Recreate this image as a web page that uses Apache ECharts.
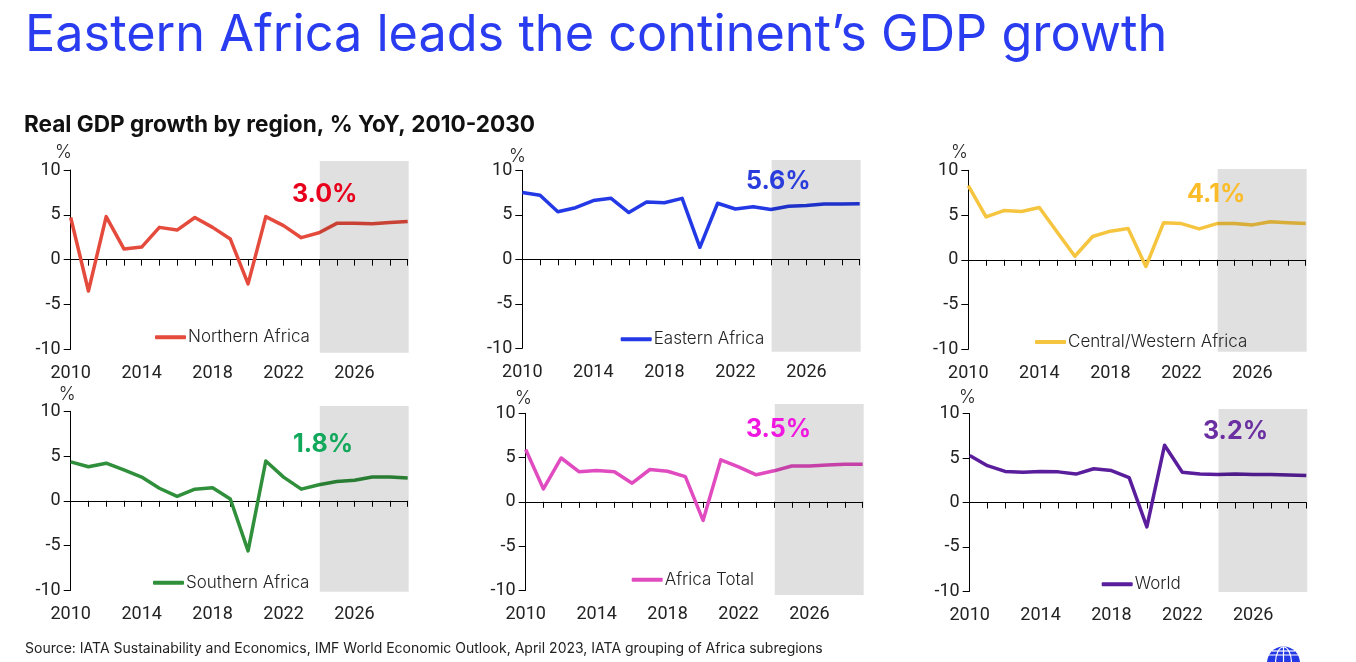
<!DOCTYPE html>
<html lang="en">
	<head>
		<meta charset="UTF-8" />
		<title>Eastern Africa GDP growth</title>
		<style>
			* {
				box-sizing: border-box;
				margin: 0;
				padding: 0;
			}

			#chart {
				width: 1356px;
				height: 662px;
				background-color: #fff;
			}
		</style>
	</head>
	<body>
		<div id="chart"></div>
		<script src="https://cdn.jsdelivr.net/npm/echarts@6/dist/echarts.min.js"></script>
		<script>
			var years = ['2010', '2011', '2012', '2013', '2014', '2015', '2016', '2017', '2018', '2019', '2020', '2021', '2022', '2023', '2024', '2025', '2026', '2027', '2028', '2029']
			var forecastStart = '2024'
			var yTicks = { min: -10, max: 10, interval: 5 }

			// values
			var northernAfrica = [4.7, -3.5, 4.8, 1.2, 1.4, 3.6, 3.3, 4.7, 3.6, 2.3, -2.7, 4.8, 3.8, 2.45, 3.0, 4.05, 4.05, 4.0, 4.15, 4.25]
			var easternAfrica = [7.5, 7.2, 5.35, 5.8, 6.6, 6.85, 5.25, 6.45, 6.35, 6.85, 1.35, 6.3, 5.65, 5.9, 5.6, 5.95, 6.05, 6.2, 6.2, 6.25]
			var centralWesternAfrica = [8.3, 4.8, 5.5, 5.4, 5.85, 3.1, 0.4, 2.6, 3.2, 3.5, -0.75, 4.15, 4.05, 3.45, 4.05, 4.05, 3.9, 4.25, 4.15, 4.05]
			var southernAfrica = [4.35, 3.8, 4.2, 3.45, 2.65, 1.4, 0.5, 1.3, 1.45, 0.2, -5.6, 4.45, 2.65, 1.3, 1.8, 2.15, 2.3, 2.65, 2.65, 2.55]
			var africaTotal = [5.9, 1.45, 4.95, 3.4, 3.55, 3.4, 2.1, 3.65, 3.45, 2.85, -2.1, 4.75, 3.95, 3.05, 3.5, 4.05, 4.05, 4.15, 4.25, 4.25]
			var world = [5.3, 4.15, 3.5, 3.4, 3.5, 3.45, 3.2, 3.8, 3.6, 2.8, -2.75, 6.45, 3.4, 3.2, 3.15, 3.2, 3.15, 3.15, 3.1, 3.05]

			var FONT = 'Inter'
			var TICK_FONT = 'Roboto'
			var INK = '#222'

			// axis box, grey box, legend, callout and % label of each small chart
			var panels = [
				{ name: 'Northern Africa', values: northernAfrica, color: '#e54b3c', callout: '3.0%', calloutColor: '#e8001c',
					l: 70.7, r: 407.7, t: 170, b: 349.3, shadeT: 161, shadeB: 352.7, legendX: 155, legendY: 337.3, calloutX: 292, calloutY: 194, unitX: 55, unitY: 152.7 },
				{ name: 'Eastern Africa', values: easternAfrica, color: '#2339e6', callout: '5.6%', calloutColor: '#2a3cdc',
					l: 522.3, r: 859.7, t: 170.3, b: 348.3, shadeT: 160, shadeB: 351.7, legendX: 620.7, legendY: 339.3, calloutX: 746, calloutY: 181, unitX: 509, unitY: 157 },
				{ name: 'Central/Western Africa', values: centralWesternAfrica, color: '#f6c540', callout: '4.1%', calloutColor: '#fbbc2a',
					l: 968.3, r: 1305.7, t: 170.3, b: 349.3, shadeT: 169, shadeB: 351.7, legendX: 1035, legendY: 342, calloutX: 1187, calloutY: 194, unitX: 951, unitY: 152.7 },
				{ name: 'Southern Africa', values: southernAfrica, color: '#2f8f3a', callout: '1.8%', calloutColor: '#12a85c',
					l: 70.7, r: 407.7, t: 411.3, b: 590.3, shadeT: 406, shadeB: 591.7, legendX: 153, legendY: 582.7, calloutX: 293, calloutY: 444, unitX: 58.7, unitY: 395 },
				{ name: 'Africa Total', values: africaTotal, color: '#e14bc0', callout: '3.5%', calloutColor: '#f018e0',
					l: 525.7, r: 862.7, t: 413.3, b: 590.3, shadeT: 404, shadeB: 595, legendX: 631.7, legendY: 579.7, calloutX: 746, calloutY: 429, unitX: 515, unitY: 399 },
				{ name: 'World', values: world, color: '#5a1e9c', callout: '3.2%', calloutColor: '#6a2fa0',
					l: 969.7, r: 1306.3, t: 413.7, b: 591.3, shadeT: 409, shadeB: 592, legendX: 1101.7, legendY: 584.3, calloutX: 1203, calloutY: 431, unitX: 959, unitY: 398 }
			]

			function label(text, x, yMid, size, color, weight) {
				return {
					text: text,
					left: x,
					top: yMid - size / 2,
					padding: 0,
					textStyle: { fontFamily: FONT, fontSize: size, color: color, fontWeight: weight || 400 }
				}
			}

			var titles = [
				label('Eastern Africa leads the continent\u2019s GDP growth', 25, 36, 50.4, '#2a3cf0', 400),
				label('Real GDP growth by region, % YoY, 2010-2030', 24, 125, 22.6, '#111', 700),
				label('Source: IATA Sustainability and Economics, IMF World Economic Outlook, April 2023, IATA grouping of Africa subregions', 25, 648.5, 14, INK)
			]
			var grids = []
			var xAxes = []
			var yAxes = []
			var series = []
			var legends = []

			panels.forEach(function (p) {
				var g = grids.length
				titles.push(label(p.callout, p.calloutX, p.calloutY, 25, p.calloutColor, 700))
				titles.push(label('%', p.unitX, p.unitY, 18, INK, 300))

				// chart grid: line at zero with ticks, labels on a second axis along the bottom
				grids.push({ left: p.l, width: p.r - p.l, top: p.t, height: p.b - p.t })
				xAxes.push({
					type: 'category', gridIndex: g, data: years, boundaryGap: false,
					axisLine: { onZero: true, lineStyle: { color: '#000', width: 1 } },
					axisTick: { interval: 0, length: 6, lineStyle: { color: '#000' } },
					axisLabel: { show: false }
				})
				xAxes.push({
					type: 'category', gridIndex: g, position: 'bottom', data: years, boundaryGap: false,
					axisLine: { show: false, onZero: false },
					axisTick: { show: false },
					axisLabel: { interval: 3, margin: 15.5, fontFamily: TICK_FONT, fontSize: 18, color: INK, showMinLabel: true, hideOverlap: false }
				})
				yAxes.push({
					type: 'value', gridIndex: g, min: yTicks.min, max: yTicks.max, interval: yTicks.interval,
					splitLine: { show: false },
					axisLine: { show: true, lineStyle: { color: '#000', width: 1 } },
					axisTick: { show: true, length: 7, lineStyle: { color: '#000' } },
					axisLabel: { margin: 10, fontFamily: TICK_FONT, fontSize: 18, color: INK }
				})
				series.push({
					type: 'line', name: p.name, xAxisIndex: xAxes.length - 2, yAxisIndex: yAxes.length - 1,
					data: p.values, symbol: 'none', clip: false,
					lineStyle: { color: p.color, width: 3.5, join: 'round' },
					itemStyle: { color: p.color }
				})

				// grey forecast box is taller than the axis, so it has its own hidden grid
				grids.push({ left: p.l, width: p.r - p.l + 1, top: p.shadeT, height: p.shadeB - p.shadeT })
				xAxes.push({ type: 'category', gridIndex: g + 1, data: years, boundaryGap: false, show: false })
				yAxes.push({ type: 'value', gridIndex: g + 1, min: 0, max: 1, show: false })
				series.push({
					type: 'line', name: 'forecast', xAxisIndex: xAxes.length - 1, yAxisIndex: yAxes.length - 1,
					data: [], silent: true, z: 3,
					markArea: {
						silent: true,
						z: 5,
						itemStyle: { color: 'rgba(0,0,0,0.12)' },
						data: [[{ xAxis: forecastStart }, { xAxis: years[years.length - 1] }]]
					}
				})

				legends.push({
					data: [p.name], left: p.legendX, top: p.legendY - 10, padding: 0, z: 10,
					itemWidth: 31, itemHeight: 4, icon: 'roundRect', selectedMode: false,
					textStyle: { fontFamily: FONT, fontSize: 17, color: INK, fontWeight: 300, padding: [0, 0, 0, -3], lineHeight: 20 }
				})
			})

			var chart = echarts.init(document.getElementById('chart'))
			chart.setOption({
				animation: false,
				backgroundColor: '#fff',
				title: titles,
				grid: grids,
				xAxis: xAxes,
				yAxis: yAxes,
				legend: legends,
				series: series,
				graphic: [{
					// logo in the corner
					type: 'group',
					children: [
						{ type: 'sector', shape: { cx: 1283.5, cy: 663, r: 16.5, r0: 0, startAngle: Math.PI, endAngle: 2 * Math.PI }, style: { fill: '#2339e6' } },
						{ type: 'line', shape: { x1: 1283.5, y1: 647, x2: 1283.5, y2: 662 }, style: { stroke: '#fff', lineWidth: 1.2 } },
						{ type: 'line', shape: { x1: 1267, y1: 655, x2: 1300, y2: 655 }, style: { stroke: '#fff', lineWidth: 1.2 } },
						{ type: 'line', shape: { x1: 1272, y1: 651, x2: 1295, y2: 651 }, style: { stroke: '#fff', lineWidth: 1.2 } },
						{ type: 'ellipse', shape: { cx: 1283.5, cy: 663, rx: 8, ry: 16 }, style: { fill: 'none', stroke: '#fff', lineWidth: 1.2 } }
					]
				}]
			})
		</script>
	</body>
</html>
